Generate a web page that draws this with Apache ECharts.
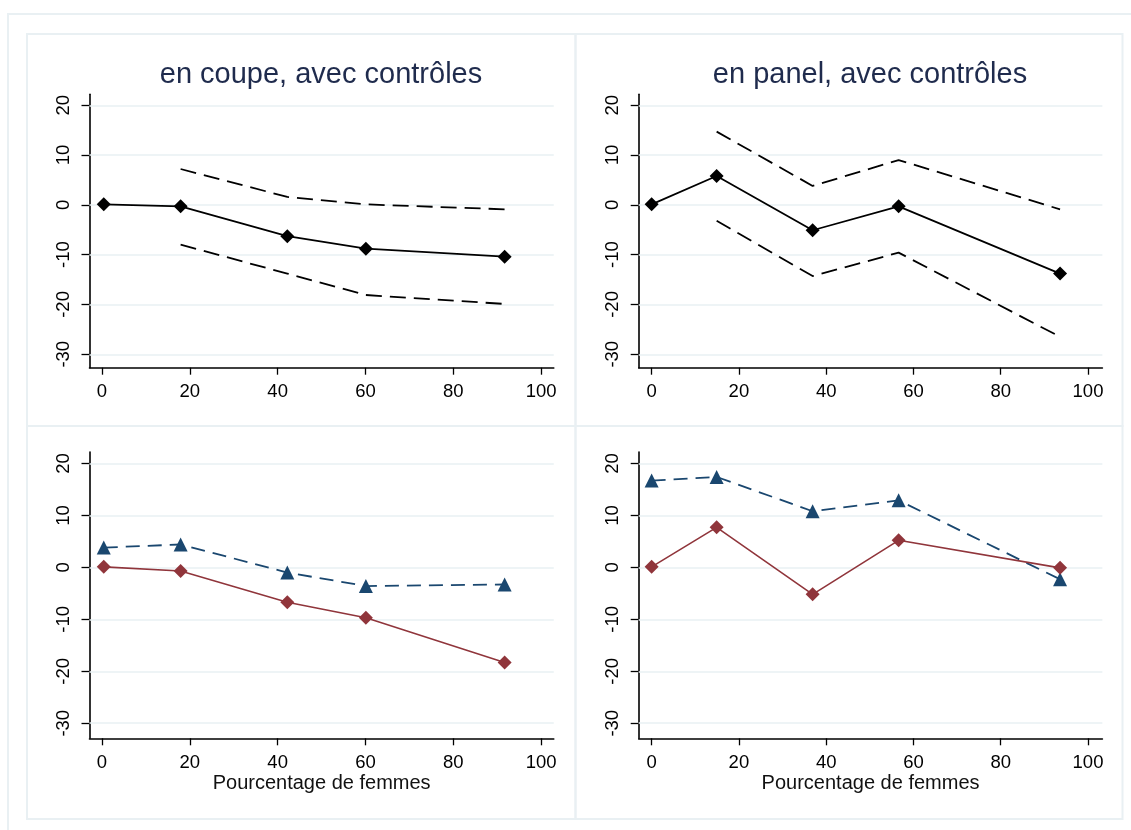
<!DOCTYPE html>
<html><head><meta charset="utf-8">
<script src="https://cdn.jsdelivr.net/npm/echarts@6/dist/echarts.min.js"></script>
<style>html,body{margin:0;padding:0;background:#fff}#c{width:1131px;height:830px}</style>
</head><body><div id="c"></div>
<script>
// ---- data ----
const titles = ['en coupe, avec contrôles', 'en panel, avec contrôles'];
const xAxisName = 'Pourcentage de femmes';
const xTicks = [0, 20, 40, 60, 80, 100];
const yTicks = [-30, -20, -10, 0, 10, 20];
const coupeX = [0.4, 17.9, 42.2, 60.1, 91.7];
const panelX = [0, 14.9, 36.9, 56.6, 93.6];
const coupeEst = [0.1, -0.3, -6.3, -8.8, -10.4];
const coupeUpper = [null, 7.2, 1.6, 0.1, -0.9];
const coupeLower = [null, -8.0, -13.8, -18.1, -19.9];
const panelEst = [0.1, 5.8, -5.1, -0.3, -13.8];
const panelUpper = [null, 14.7, 3.8, 9.0, -0.9];
const panelLower = [null, -3.2, -14.3, -9.6, -26.5];
const coupeBlue = [3.8, 4.4, -1.0, -3.6, -3.3];
const coupeRed = [0.1, -0.7, -6.7, -9.7, -18.3];
const panelBlue = [16.7, 17.4, 10.8, 12.9, -2.3];
const panelRed = [0.1, 7.7, -5.2, 5.2, -0.1];

// ---- layout / style ----
const FONT = 'Liberation Sans, Arial, sans-serif';
const NAVY = '#1a476f', MAROON = '#90353b', FRAME = '#e9f0f3', GRID = '#e9f1f3';
const grids = [
  {left: 89.5, top: 94.3, width: 464.3, height: 273.4},
  {left: 638.7, top: 94.3, width: 463.7, height: 273.4},
  {left: 89.5, top: 452, width: 464.3, height: 286.3},
  {left: 638.7, top: 452, width: 463.7, height: 286.3}
];
const xRanges = [[-2.85, 102.9], [-2.96, 103.3], [-2.85, 102.9], [-2.96, 103.3]];
const yRanges = [[-32.7, 22.2], [-32.7, 22.2], [-32.9, 22.2], [-32.9, 22.2]];

const pairs = (xs, ys) => xs.map((x, i) => [x, ys[i]]);

const xAxes = grids.map((g, i) => ({
  gridIndex: i, type: 'value', min: xRanges[i][0], max: xRanges[i][1],
  name: i >= 2 ? xAxisName : '', nameLocation: 'middle', nameGap: 33,
  nameTextStyle: {fontSize: 20, color: '#111', fontFamily: FONT},
  axisLine: {show: true, onZero: false, lineStyle: {color: '#000', width: 1.6}},
  axisTick: {show: true, length: 7, customValues: xTicks, lineStyle: {color: '#000', width: 1.3}},
  axisLabel: {customValues: xTicks, margin: 15, fontSize: 18.5, color: '#000', fontFamily: FONT},
  splitLine: {show: false}
}));
const yAxes = grids.map((g, i) => ({
  gridIndex: i, type: 'value', min: yRanges[i][0], max: yRanges[i][1],
  axisLine: {show: true, onZero: false, lineStyle: {color: '#000', width: 1.6}},
  axisTick: {show: true, length: 8, customValues: yTicks, lineStyle: {color: '#000', width: 1.3}},
  axisLabel: {customValues: yTicks, rotate: 90, margin: 16, fontSize: 18.5, color: '#000', fontFamily: FONT},
  splitLine: {show: false}
}));

const series = [];
// gridlines as markLines
grids.forEach((g, i) => {
  series.push({
    type: 'line', xAxisIndex: i, yAxisIndex: i, data: [], z: 1, silent: true,
    markLine: {silent: true, z: 1, symbol: 'none', label: {show: false}, animation: false,
      lineStyle: {color: GRID, type: 'solid', width: 1.5},
      data: yTicks.map(v => ({yAxis: v}))}
  });
});
function ci(idx, xs, ys) {
  return {type: 'line', xAxisIndex: idx, yAxisIndex: idx, data: pairs(xs, ys), symbol: 'none',
    lineStyle: {color: '#000', width: 1.8, type: [16, 8]}, z: 3, animation: false};
}
function est(idx, xs, ys, color, width, sym, dash) {
  return {type: 'line', xAxisIndex: idx, yAxisIndex: idx, data: pairs(xs, ys),
    symbol: sym, symbolSize: 14, itemStyle: {color: color},
    lineStyle: {color: color, width: width, type: dash || 'solid'}, z: 4, animation: false};
}
series.push(ci(0, coupeX, coupeUpper), ci(0, coupeX, coupeLower), est(0, coupeX, coupeEst, '#000', 1.8, 'diamond'));
series.push(ci(1, panelX, panelUpper), ci(1, panelX, panelLower), est(1, panelX, panelEst, '#000', 1.8, 'diamond'));
series.push(est(2, coupeX, coupeBlue, NAVY, 1.8, 'triangle', [14, 8]), est(2, coupeX, coupeRed, MAROON, 1.6, 'diamond'));
series.push(est(3, panelX, panelBlue, NAVY, 1.8, 'triangle', [14, 8]), est(3, panelX, panelRed, MAROON, 1.6, 'diamond'));

const frame = (x, y, w, h) => ({type: 'rect', shape: {x, y, width: w, height: h}, silent: true,
  style: {fill: null, stroke: FRAME, lineWidth: 2}});

const chart = echarts.init(document.getElementById('c'), null, {renderer: 'canvas'});
chart.setOption({
  backgroundColor: '#fff',
  animation: false,
  title: [
    {text: titles[0], left: 316, top: 55},
    {text: titles[1], left: 865, top: 55}
  ].map(t => Object.assign(t, {textAlign: 'center',
    textStyle: {fontSize: 29, fontWeight: 'normal', color: '#1f2b4d', fontFamily: FONT}})),
  graphic: [
    frame(8, 14, 1140, 840),
    frame(27, 34, 548.5, 392), frame(575.5, 34, 547, 392),
    frame(27, 426, 548.5, 393), frame(575.5, 426, 547, 393)
  ],
  grid: grids,
  xAxis: xAxes,
  yAxis: yAxes,
  series: series
});
</script></body></html>
